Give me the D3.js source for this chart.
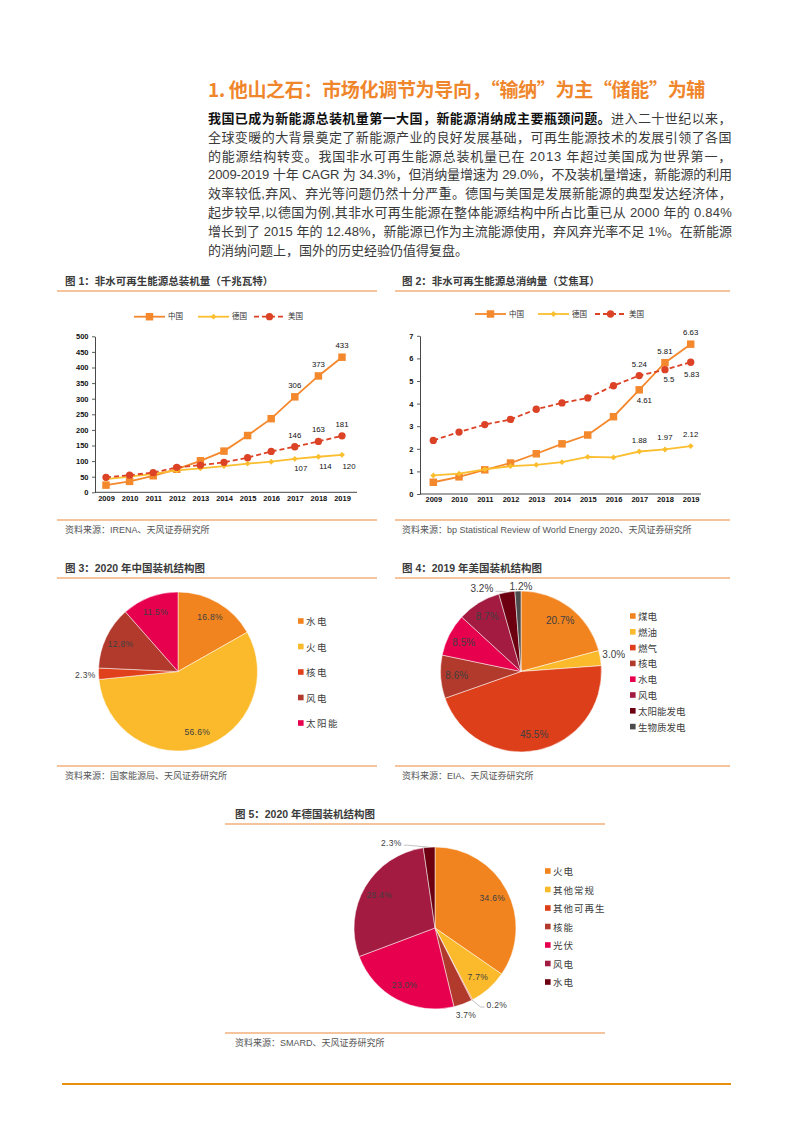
<!DOCTYPE html>
<html><head><meta charset="utf-8">
<script src="https://cdn.jsdelivr.net/npm/d3@7"></script>
<style>html,body{margin:0;padding:0;background:#fff}svg{display:block}</style>
</head><body>
<svg id="page" width="793" height="1122"></svg>
<script>
// ---------------- DATA ----------------
const years = [2009,2010,2011,2012,2013,2014,2015,2016,2017,2018,2019];
const seriesNames = ['中国','德国','美国'];
// 图1 非水可再生能源总装机量（GW）
const capChina   = [23,35,53,74,101,132,182,236,306,373,433];
const capGermany = [42,50,59,70,77,84,92,98,107,114,120];
const capUS      = [48,55,63,80,87,96,111,131,146,163,181];
const capTicks   = [0,50,100,150,200,250,300,350,400,450,500];
// 图2 非水可再生能源总消纳量（EJ）
const conChina   = [0.52,0.76,1.07,1.37,1.78,2.22,2.61,3.42,4.61,5.81,6.63];
const conGermany = [0.82,0.90,1.09,1.23,1.29,1.41,1.64,1.62,1.88,1.97,2.12];
const conUS      = [2.37,2.74,3.07,3.30,3.75,4.03,4.25,4.79,5.24,5.50,5.83];
const conTicks   = [0,1,2,3,4,5,6,7];
// 图3 2020 年中国装机结构
const cnMixLabels = ['水电','火电','核电','风电','太阳能'];
const cnMixValues = [16.8,56.6,2.3,12.8,11.5];
// 图4 2019 年美国装机结构
const usMixLabels = ['煤电','燃油','燃气','核电','水电','风电','太阳能发电','生物质发电'];
const usMixValues = [20.7,3.0,45.5,8.6,8.5,8.7,3.2,1.2];
// 图5 2020 年德国装机结构
const deMixLabels = ['火电','其他常规','其他可再生','核能','光伏','风电','水电'];
const deMixValues = [34.6,7.7,0.2,3.7,23.0,28.4,2.3];

// ---------------- STYLE ----------------
const FONT = '"Liberation Sans","Noto Sans CJK SC",sans-serif';
const CJK = '"Noto Sans CJK SC","Liberation Sans",sans-serif';
const RULE = '#EE8A3A';
const lineColors = ['#F4882C','#FBBE2E','#DC4326'];
const svg = d3.select('#page');

function justify(sel, target){
  const n = [...sel.text()].length;
  const len = sel.node().getComputedTextLength();
  sel.attr('letter-spacing', ((target - len) / n).toFixed(3));
}

// ---------------- HEADING + PARAGRAPH ----------------
const heading = svg.append('text').attr('x',208).attr('y',88)
  .attr('dominant-baseline','central').attr('font-family',CJK)
  .attr('font-weight',700).attr('font-size',19).attr('fill','#F0862B')
  .text('1. 他山之石：市场化调节为导向，“输纳”为主“储能”为辅');
justify(heading, 497);

const paraLines = [
  ['我国已成为新能源总装机量第一大国，新能源消纳成主要瓶颈问题。','进入二十世纪以来，'],
  ['','全球变暖的大背景奠定了新能源产业的良好发展基础，可再生能源技术的发展引领了各国'],
  ['','的能源结构转变。我国非水可再生能源总装机量已在 2013 年超过美国成为世界第一，'],
  ['','2009-2019 十年 CAGR 为 34.3%，但消纳量增速为 29.0%，不及装机量增速，新能源的利用'],
  ['','效率较低,弃风、弃光等问题仍然十分严重。德国与美国是发展新能源的典型发达经济体，'],
  ['','起步较早,以德国为例,其非水可再生能源在整体能源结构中所占比重已从 2000 年的 0.84%'],
  ['','增长到了 2015 年的 12.48%，新能源已作为主流能源使用，弃风弃光率不足 1%。在新能源'],
  ['','的消纳问题上，国外的历史经验仍值得复盘。']
];
paraLines.forEach((ln,i)=>{
  const t = svg.append('text').attr('x',208).attr('y',118 + i*18.8)
    .attr('dominant-baseline','central').attr('font-family',FONT)
    .attr('font-size',13).attr('fill','#3a3a3a');
  if (ln[0]) t.append('tspan').attr('font-weight',700).attr('fill','#111').text(ln[0]);
  t.append('tspan').text(ln[1]);
  if (i < paraLines.length - 1) justify(t, 524);
});

// ---------------- FRAME (titles, rules, sources) ----------------
function frame(o){
  svg.append('text').attr('x',o.tx).attr('y',o.ty).attr('dominant-baseline','central')
    .attr('font-family',FONT).attr('font-weight',700).attr('font-size',10.5)
    .attr('fill','#3b3b3b').text(o.title);
  svg.append('line').attr('x1',o.x0).attr('x2',o.x1).attr('y1',o.ty+10).attr('y2',o.ty+10)
    .attr('stroke',RULE).attr('stroke-width',1.2);
  svg.append('line').attr('x1',o.x0).attr('x2',o.x1).attr('y1',o.sy-10).attr('y2',o.sy-10)
    .attr('stroke',RULE).attr('stroke-width',1.2);
  svg.append('text').attr('x',o.tx).attr('y',o.sy).attr('dominant-baseline','central')
    .attr('font-family',FONT).attr('font-size',9).attr('fill','#555').text(o.source);
}
frame({tx:65,ty:281,x0:57,x1:377,sy:530,title:'图 1：非水可再生能源总装机量（千兆瓦特）',source:'资料来源：IRENA、天风证券研究所'});
frame({tx:402,ty:281,x0:395,x1:730,sy:530,title:'图 2：非水可再生能源总消纳量（艾焦耳）',source:'资料来源：bp Statistical Review of World Energy 2020、天风证券研究所'});
frame({tx:65,ty:568,x0:57,x1:377,sy:776,title:'图 3：2020 年中国装机结构图',source:'资料来源：国家能源局、天风证券研究所'});
frame({tx:402,ty:568,x0:395,x1:730,sy:776,title:'图 4：2019 年美国装机结构图',source:'资料来源：EIA、天风证券研究所'});
frame({tx:235,ty:814,x0:225,x1:605,sy:1043,title:'图 5：2020 年德国装机结构图',source:'资料来源：SMARD、天风证券研究所'});
svg.append('line').attr('x1',62).attr('x2',731).attr('y1',1084).attr('y2',1084)
  .attr('stroke','#E8900C').attr('stroke-width',2);

// ---------------- LINE CHARTS ----------------
function marker(g, type, x, y, color){
  if (type === 'square') {
    g.append('path').attr('d', d3.symbol(d3.symbolSquare, 56)())
      .attr('transform',`translate(${x},${y})`).attr('fill',color);
  } else if (type === 'diamond') {
    g.append('path').attr('d', d3.symbol(d3.symbolSquare, 17)())
      .attr('transform',`translate(${x},${y}) rotate(45)`).attr('fill',color);
  } else {
    g.append('path').attr('d', d3.symbol(d3.symbolCircle, 42)())
      .attr('transform',`translate(${x},${y})`).attr('fill',color);
  }
}
const markerTypes = ['square','diamond','circle'];

function lineChart(c){
  const g = svg.append('g');
  const x = d3.scalePoint().domain(years).range([c.px0, c.px1]);
  const y = d3.scaleLinear().domain([0, c.max]).range([c.yBase, c.yTop]);
  // axes
  const ya = g.append('g').attr('transform',`translate(${c.x0},0)`)
    .call(d3.axisLeft(y).tickValues(c.ticks).tickFormat(d3.format('d'))
      .tickSize(3).tickSizeOuter(0).tickPadding(3.5));
  const xa = g.append('g').attr('transform',`translate(0,${c.yBase})`)
    .call(d3.axisBottom(x).tickSize(0).tickPadding(3).tickFormat(d3.format('d')));
  xa.select('.domain').attr('d',`M${c.x0},0H${c.x1}`);
  [ya, xa].forEach(a=>{
    a.selectAll('.domain').attr('stroke','#333').attr('stroke-width',0.9);
    a.selectAll('.tick line').attr('stroke','#333').attr('stroke-width',0.8);
    a.selectAll('text').attr('font-family',FONT).attr('font-size',7.5).attr('font-weight',700).attr('fill','#111');
  });
  // series
  c.series.forEach((vals,si)=>{
    const line = d3.line().x((d,i)=>x(years[i])).y(d=>y(d));
    g.append('path').attr('d',line(vals)).attr('fill','none')
      .attr('stroke',lineColors[si]).attr('stroke-width',1.8)
      .attr('stroke-dasharray', si===2 ? '5,3' : null);
    vals.forEach((v,i)=>marker(g, markerTypes[si], x(years[i]), y(v), lineColors[si]));
  });
  // data labels
  c.labels.forEach(l=>{
    const i = years.indexOf(l.year);
    const v = c.series[l.s][i];
    const off = l.pos === 'above' ? [0,-11.5] : l.off;
    g.append('text').attr('x', x(l.year)+off[0]).attr('y', y(v)+off[1])
      .attr('text-anchor','middle').attr('dominant-baseline','central')
      .attr('font-family',FONT).attr('font-size',7.8).attr('fill','#111').text(String(v));
  });
  // legend
  seriesNames.forEach((n,si)=>{
    const lx = c.legendX[si], ly = c.legendY;
    g.append('line').attr('x1',lx).attr('x2',lx+31).attr('y1',ly).attr('y2',ly)
      .attr('stroke',lineColors[si]).attr('stroke-width',1.8)
      .attr('stroke-dasharray', si===2 ? '5,3' : null);
    marker(g, markerTypes[si], lx+15.5, ly, lineColors[si]);
    g.append('text').attr('x',lx+34).attr('y',ly).attr('dominant-baseline','central')
      .attr('font-family',FONT).attr('font-size',7.5).attr('fill','#333').text(n);
  });
}

lineChart({
  x0:95, x1:357, px0:106, px1:342, yBase:492.3, yTop:336.3, max:500, ticks:capTicks,
  series:[capChina, capGermany, capUS], legendX:[134,198,254], legendY:316.7,
  labels:[
    {s:0,year:2017,pos:'above'},{s:0,year:2018,pos:'above'},{s:0,year:2019,pos:'above'},
    {s:2,year:2017,pos:'above'},{s:2,year:2018,pos:'above'},{s:2,year:2019,pos:'above'},
    {s:1,year:2017,pos:'below',off:[6,9.5]},{s:1,year:2018,pos:'below',off:[7,10]},{s:1,year:2019,pos:'below',off:[7,11.5]}
  ]
});
lineChart({
  x0:420, x1:701, px0:433.3, px1:690.7, yBase:494, yTop:335.8, max:7, ticks:conTicks,
  series:[conChina, conGermany, conUS], legendX:[475,538,595], legendY:314,
  labels:[
    {s:0,year:2017,pos:'below',off:[5,11]},{s:0,year:2018,pos:'above'},{s:0,year:2019,pos:'above'},
    {s:2,year:2017,pos:'above'},{s:2,year:2018,pos:'below',off:[4,10]},{s:2,year:2019,pos:'below',off:[1,12]},
    {s:1,year:2017,pos:'above'},{s:1,year:2018,pos:'above'},{s:1,year:2019,pos:'above'}
  ]
});

// ---------------- PIE CHARTS ----------------
function pieChart(c){
  const g = svg.append('g').attr('transform',`translate(${c.cx},${c.cy})`);
  const data = c.labels.map((l,i)=>({label:l, value:c.values[i], color:c.colors[i]}));
  const arcs = d3.pie().sort(null).value(d=>d.value)(data);
  const arc = d3.arc().innerRadius(0).outerRadius(c.r);
  const labelArc = d3.arc().innerRadius(c.r*0.8).outerRadius(c.r*0.8);
  const edgeArc = d3.arc().innerRadius(c.r).outerRadius(c.r);
  g.selectAll('path.slice').data(arcs).join('path').attr('class','slice')
    .attr('d',arc).attr('fill',d=>d.data.color).attr('stroke','#fff').attr('stroke-width',0.5);
  arcs.forEach(a=>{
    const txt = a.data.value.toFixed(1) + '%';
    const o = c.outside[a.data.label];
    if (!o) {
      const [px,py] = labelArc.centroid(a);
      g.append('text').attr('x',px).attr('y',py).attr('text-anchor','middle')
        .attr('dominant-baseline','central').attr('font-family',FONT)
        .attr('font-size',c.font).attr('letter-spacing',c.ls).attr('fill','#404040').text(txt);
    } else {
      const [ex,ey] = edgeArc.centroid(a);
      const lx = ex + o.dx, ly = ey + o.dy;
      g.append('text').attr('x',lx).attr('y',ly).attr('text-anchor',o.anchor)
        .attr('font-family',FONT).attr('font-size',c.font).attr('letter-spacing',c.ls)
        .attr('fill','#404040').text(txt);
      if (o.leader) {
        const s = o.anchor === 'end' ? 1 : -1;
        const edge = [lx + s*2, ly - 1];
        const knee = [edge[0] + s*4, edge[1]];
        g.append('path').attr('d', d3.line()([[ex,ey], knee, edge]))
          .attr('fill','none').attr('stroke','#A8A8A8').attr('stroke-width',0.7);
      }
    }
  });
  // legend
  data.forEach((d,i)=>{
    const ly = c.legend.y + i*c.legend.step;
    svg.append('rect').attr('x',c.legend.x).attr('y',ly-2.8).attr('width',5.6).attr('height',5.6).attr('fill',d.color);
    svg.append('text').attr('x',c.legend.x+8).attr('y',ly).attr('dominant-baseline','central')
      .attr('font-family',CJK).attr('font-size',c.legend.font).attr('letter-spacing',c.legend.ls)
      .attr('fill','#404040').text(d.label);
  });
}

pieChart({
  cx:178, cy:671.5, r:79.5, labels:cnMixLabels, values:cnMixValues,
  colors:['#F2841F','#FBBA2C','#E0411C','#B23A2C','#E6004D'],
  font:8.5, ls:0.3,
  outside:{'核电':{dx:-3,dy:4,anchor:'end'}},
  legend:{x:298, y:621, step:25.5, font:9.5, ls:1.5}
});
pieChart({
  cx:521, cy:671.5, r:80.5, labels:usMixLabels, values:usMixValues,
  colors:['#F2841F','#FBBA2C','#DD3F1B','#B23A2C','#E6004D','#A31B40','#6C0010','#4B4B4B'],
  font:10, ls:0,
  outside:{'燃油':{dx:2,dy:-0.5,anchor:'start'},'太阳能发电':{dx:-13.5,dy:0,anchor:'end',leader:true},'生物质发电':{dx:3,dy:-1,anchor:'middle'}},
  legend:{x:630, y:616, step:15.8, font:9.5, ls:0}
});
pieChart({
  cx:435, cy:928, r:81, labels:deMixLabels, values:deMixValues,
  colors:['#F2841F','#FBBA2C','#DD3F1B','#B23A2C','#E6004D','#A31B40','#6C0010'],
  font:8.5, ls:0.3,
  outside:{'其他可再生':{dx:14.5,dy:8,anchor:'start',leader:true},'核能':{dx:3,dy:13.5,anchor:'middle'},'水电':{dx:-27.5,dy:-1,anchor:'end',leader:true}},
  legend:{x:545, y:871, step:18.5, font:9.5, ls:1}
});
</script>
</body></html>
